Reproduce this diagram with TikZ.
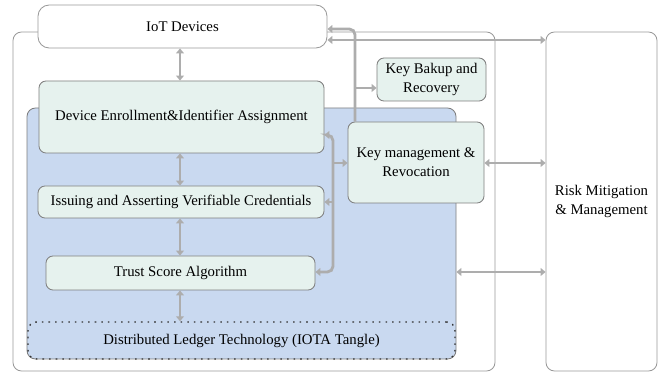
\documentclass[tikz,border=0pt]{standalone}
\usepackage{fontspec}
\setmainfont{Liberation Serif}
\usetikzlibrary{fit,arrows.meta}
\definecolor{boxfill}{HTML}{E6F2EE}
\definecolor{bluefill}{HTML}{C9D9F0}
\definecolor{bordergray}{HTML}{7F7F7F}
\definecolor{lightborder}{HTML}{9A9A9A}
\definecolor{arrowgray}{HTML}{ADADAD}
\tikzset{
  plainbox/.style={draw=lightborder, line width=0.6pt, fill=white, rounded corners=6pt, inner sep=0pt},
  greenbox/.style={draw=bordergray, line width=0.6pt, fill=boxfill, rounded corners=5pt, inner sep=0pt},
  txt/.style={align=center, inner sep=0pt},
  conn/.style={draw=arrowgray, line width=2pt, rounded corners=4pt},
  tip/.tip={Triangle[length=3.5pt,width=5.5pt]},
}
\begin{document}
\begin{tikzpicture}[x=0.025cm,y=-0.025cm,font=\fontsize{10.5}{13.5}\selectfont]
\useasboundingbox (0,0) rectangle (660,373);
% outer frames
\node[plainbox, fit={(13,32)(495,371)}] (outer) {};
\node[plainbox, fit={(546,32)(657,371)}, label={[txt]center:Risk Mitigation\\\& Management}] (risk) {};
\node[plainbox, rounded corners=8pt, fit={(38,5)(327,48)}, label={[txt]center:IoT Devices}] (iot) {};
% blue region
\node[draw=bordergray, line width=0.6pt, fill=bluefill, rounded corners=6pt, inner sep=0pt, fit={(27,108)(456,359)}] (blue) {};
\node[draw=black!80, line width=1pt, dash pattern=on 1.1pt off 3.6pt, rounded corners=6pt, inner sep=0pt, fit={(28,322)(455,359)}, label={[txt]center:Distributed Ledger Technology (IOTA Tangle)}] (dlt) {};
% inner boxes
\node[greenbox, fit={(39,81)(324,153)}, label={[txt]center:Device Enrollment\&Identifier Assignment}] (enroll) {};
\node[greenbox, fit={(38,186)(324,218)}, label={[txt]center:Issuing and Asserting Verifiable Credentials}] (issue) {};
\node[greenbox, fit={(46,256)(315,290)}, label={[txt]center:Trust Score Algorithm}] (trust) {};
\node[greenbox, fit={(377,58)(486,101)}, label={[txt]center:Key Bakup and\\Recovery}] (bakup) {};
\node[greenbox, fit={(348,122)(484,203)}, label={[txt]center:Key management \&\\Revocation}] (keymgmt) {};
% vertical connectors
\draw[conn, tip-tip] (iot.south -| 180,0) -- (enroll.north -| 180,0);
\draw[conn, tip-tip] (enroll.south -| 180,0) -- (issue.north -| 180,0);
\draw[conn, tip-tip] (issue.south -| 180,0) -- (trust.north -| 180,0);
\draw[conn, tip-tip] (trust.south -| 180,0) -- (dlt.north -| 180,0);
% IoT to key management / backup
\coordinate (jtop) at (355,29);
\coordinate (jbak) at (355,88);
\draw[conn, tip-] (iot.east |- 0,29) -- (jtop) -- (keymgmt.north -| jtop);
\draw[conn, -tip] (jbak) -- (bakup.west |- jbak);
% IoT to risk
\draw[conn, tip-tip] (iot.east |- 0,40) -- (risk.west |- 0,40);
% bracket
\coordinate (bt) at (333,135);
\coordinate (bb) at (333,272);
\draw[conn, tip-tip] (enroll.east |- bt) -- (bt) -- (bb) -- (trust.east |- bb);
\draw[conn, -tip] (333,163) -- (keymgmt.west |- 0,163);
\draw[conn, -tip] (333,202) -- (issue.east |- 0,202);
% risk links
\draw[conn, tip-tip] (keymgmt.east |- 0,163) -- (risk.west |- 0,163);
\draw[conn, tip-tip] (blue.east |- 0,272) -- (risk.west |- 0,272);
\end{tikzpicture}
\end{document}
